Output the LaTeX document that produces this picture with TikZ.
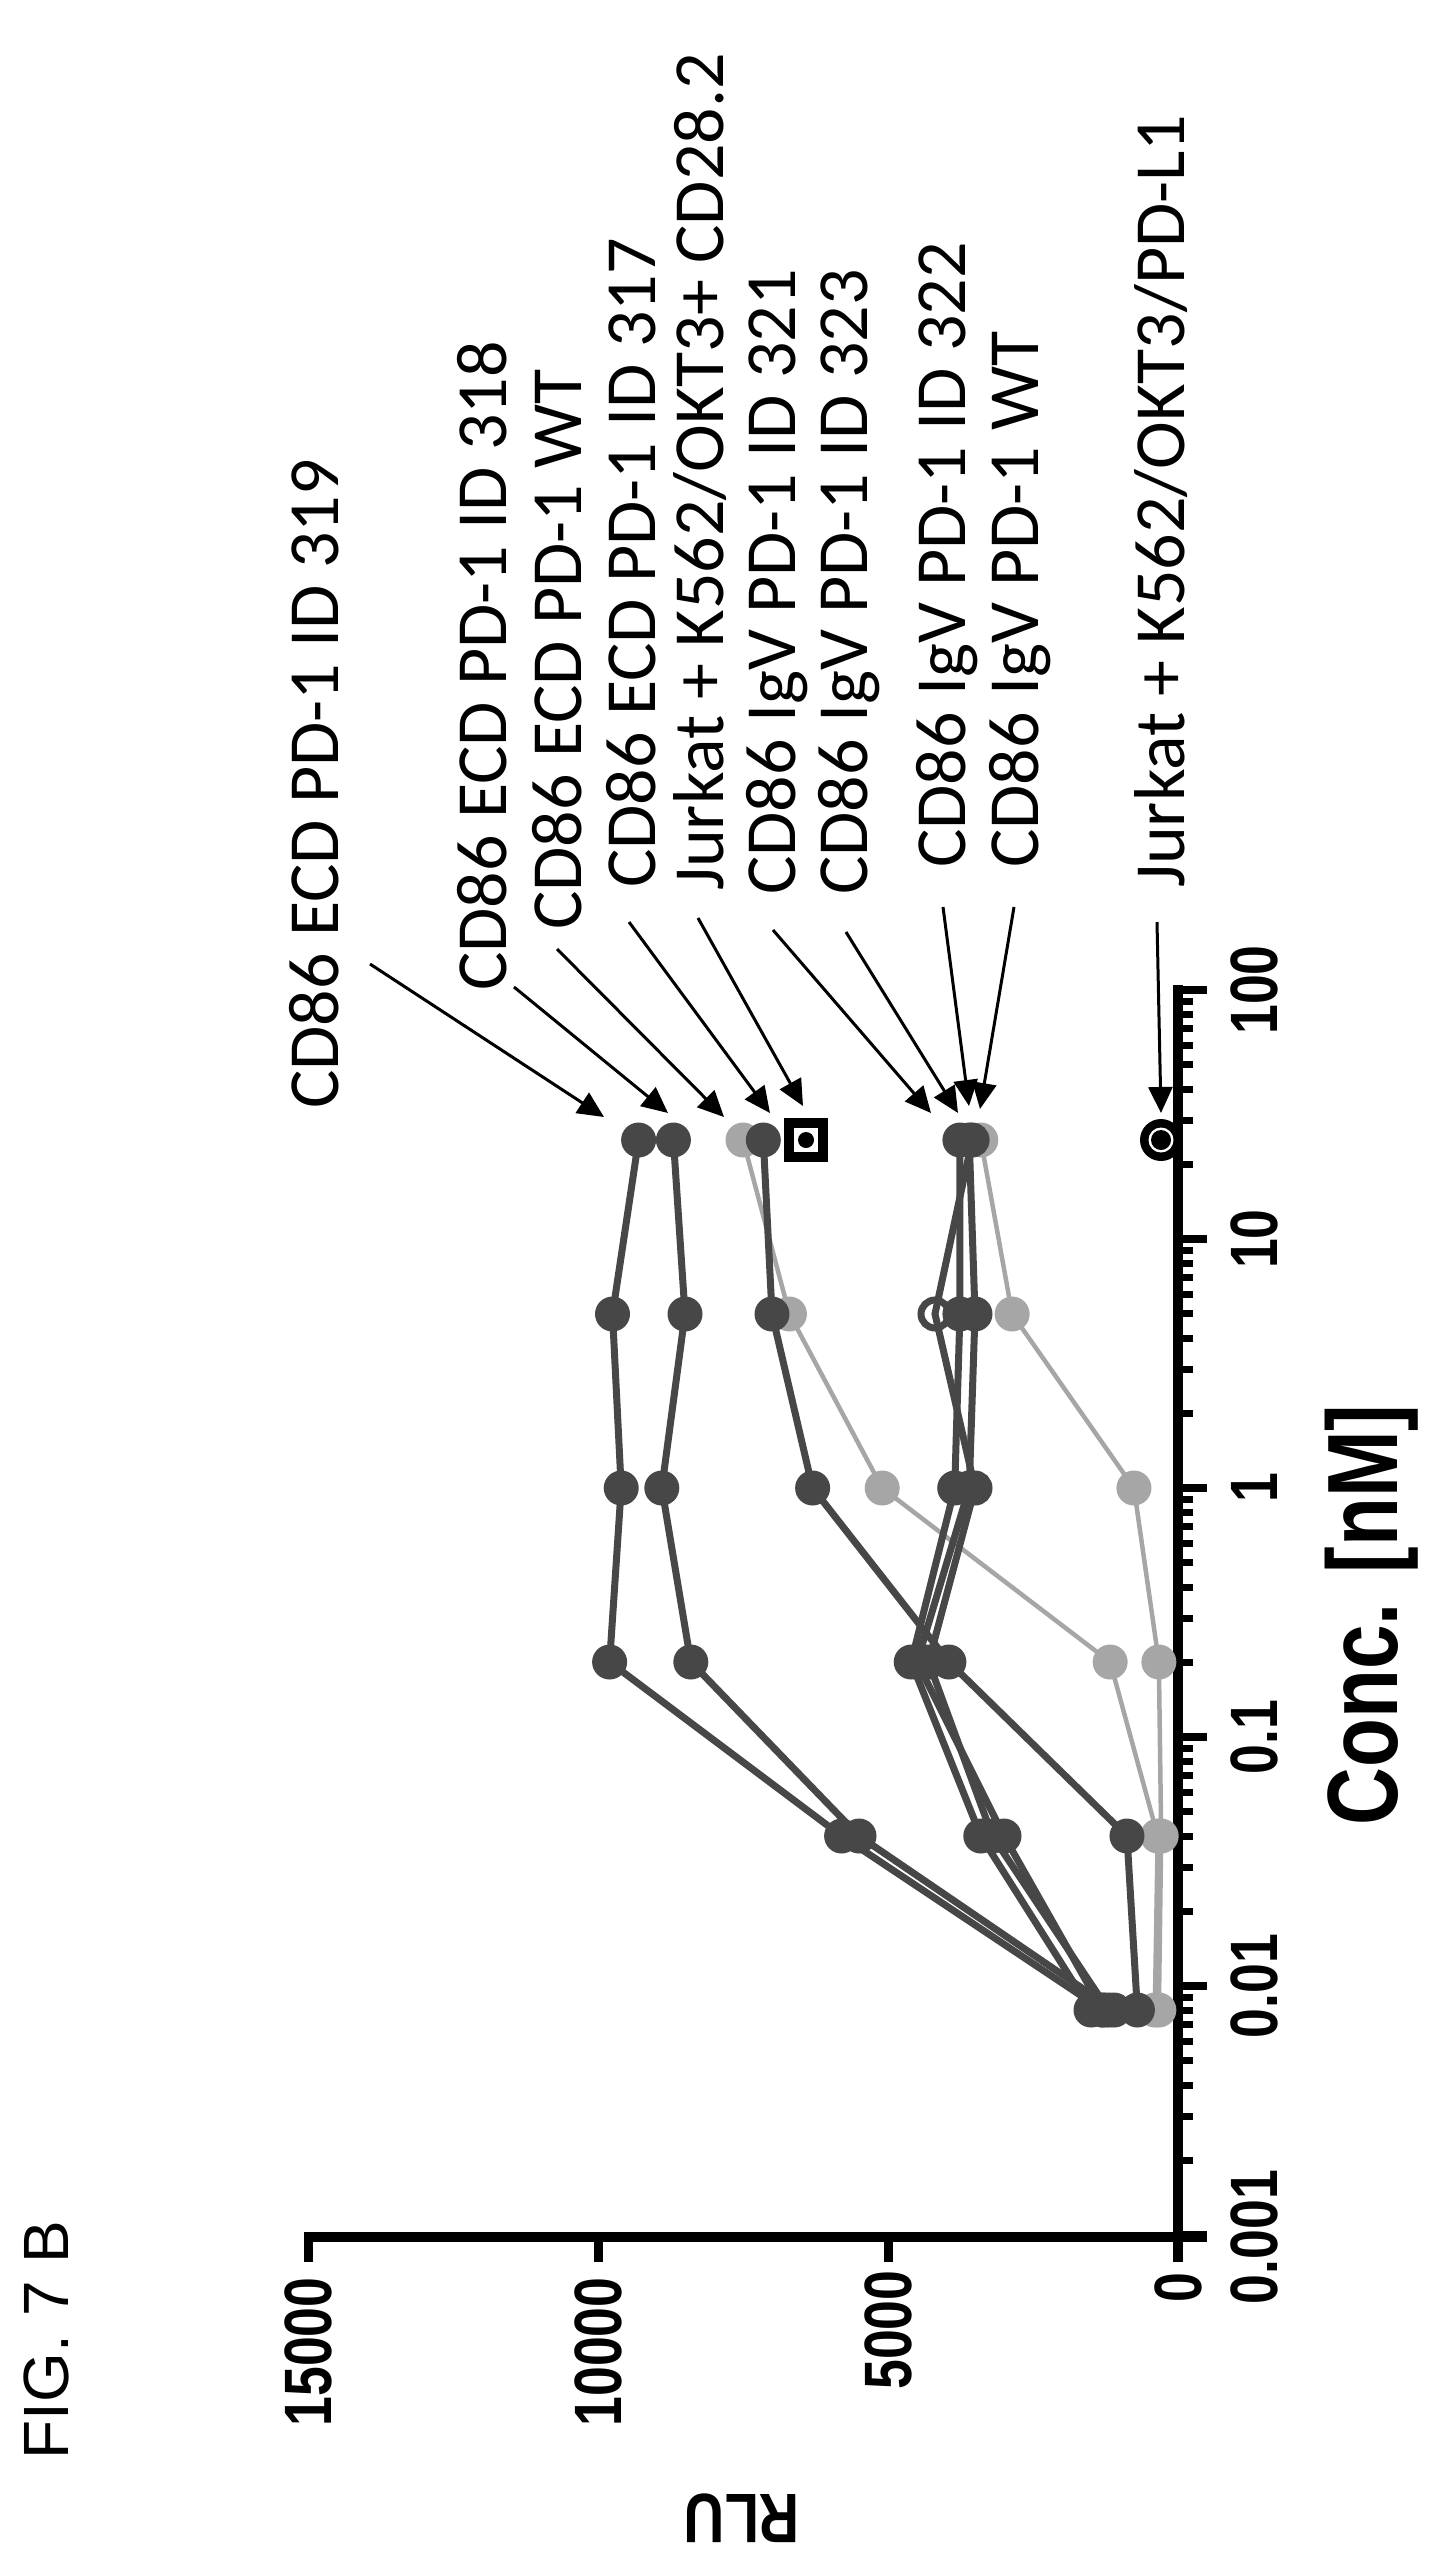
\documentclass[tikz,border=0pt]{standalone}
\usepackage{fontspec}
\usepackage{graphicx}
\setmainfont{Carlito}
\newfontfamily\axfont{Liberation Sans}
\usetikzlibrary{arrows.meta}
\tikzset{
  dk/.style={line width=7pt,draw=black!72},
  lt/.style={line width=4.5pt,draw=black!35},
  dkm/.style={fill=black!72,draw=none},
  ltm/.style={fill=black!35,draw=none},
  lab/.style={rotate=90,anchor=west,inner sep=0pt,font=\fontsize{72}{80}\selectfont},
  ptr/.style={line width=3pt,-{Triangle[length=26pt,width=24pt]}},
  tlab/.style={rotate=90,inner sep=0pt,font=\axfont\bfseries\fontsize{67}{70}\selectfont},
}
\newcommand\sq[1]{\scalebox{0.8}[1]{#1}}
\begin{document}
\begin{tikzpicture}[x=1pt,y=-1pt]
\useasboundingbox (0,0) rectangle (1431,2564);
% axes
\draw[line width=10pt] (1178,985) -- (1178,2262);
\draw[line width=10pt] (308,2237) -- (1207,2237);
\foreach \x in {308,598,888} \draw[line width=9pt] (\x,2232) -- (\x,2262);
\foreach \d in {-3,...,2}{
  \draw[line width=8pt] (1178,{1488-249*\d}) -- (1207,{1488-249*\d});
  \ifnum\d<2
  \foreach \m in {2,...,9} \draw[line width=7pt] (1178,{1488-249*(\d+log10(\m))}) -- (1193,{1488-249*(\d+log10(\m))});
  \fi
}
\draw[line width=8pt] (1178,990) -- (1207,990);
% tick labels
\node[tlab] at (1254,2237) {\sq{0.001}};
\node[tlab] at (1254,1986) {\sq{0.01}};
\node[tlab] at (1254,1737) {\sq{0.1}};
\node[tlab] at (1254,1488) {\sq{1}};
\node[tlab] at (1254,1239) {\sq{10}};
\node[tlab] at (1254,990) {\sq{100}};
\node[tlab] at (308,2352) {\sq{15000}};
\node[tlab] at (598,2352) {\sq{10000}};
\node[tlab] at (888,2330) {\sq{5000}};
\node[tlab] at (1178,2288) {\sq{0}};
\node[rotate=90,inner sep=0pt,font=\axfont\bfseries\fontsize{100}{100}\selectfont] (xt) at (1372,1615) {\sq{Conc. [nM]}};
\node[rotate=180,inner sep=0pt,font=\axfont\bfseries\fontsize{70}{70}\selectfont] (yt) at (742,2518) {\sq{RLU}};
\node[rotate=90,inner sep=0pt,font=\axfont\fontsize{64}{64}\selectfont] (fig) at (46,2340) {FIG. 7 B};
% series: y positions
\def\ya{2010}\def\yb{1836}\def\yc{1662}\def\yd{1488}\def\ye{1314}\def\yf{1140}
\newcommand\ser[7]{\draw[#1] ({1178-0.058*#2},\ya) -- ({1178-0.058*#3},\yb) -- ({1178-0.058*#4},\yc) -- ({1178-0.058*#5},\yd) -- ({1178-0.058*#6},\ye) -- ({1178-0.058*#7},\yf);}
\newcommand\mk[7]{\foreach \r/\yy in {#2/\ya,#3/\yb,#4/\yc,#5/\yd,#6/\ye,#7/\yf} \fill[#1] ({1178-0.058*\r},\yy) circle (17.5);}
\newcommand\rg[7]{\foreach \r/\yy in {#2/\ya,#3/\yb,#4/\yc,#5/\yd,#6/\ye,#7/\yf} \draw[black!72,line width=7pt] ({1178-0.058*\r},\yy) circle (14);}
% light series
\ser{lt}{330}{290}{330}{760}{2860}{3400}
\mk{ltm}{330}{290}{330}{760}{2860}{3400}
\ser{lt}{400}{350}{1170}{5100}{6700}{7500}
\mk{ltm}{400}{350}{1170}{5100}{6700}{7500}
% dark series
\ser{dk}{1200}{3200}{4300}{3500}{4190}{3550}
\ser{dk}{1300}{3000}{4500}{3600}{3500}{3600}
\ser{dk}{1500}{3400}{4600}{3850}{3760}{3760}
\ser{dk}{700}{880}{3950}{6300}{7000}{7150}
\ser{dk}{1100}{5500}{8400}{8900}{8500}{8700}
\ser{dk}{1300}{5800}{9800}{9600}{9750}{9300}
\mk{dkm}{1300}{3000}{4500}{3600}{3500}{3600}
\mk{dkm}{1500}{3400}{4600}{3850}{3760}{3760}
\mk{dkm}{700}{880}{3950}{6300}{7000}{7150}
\mk{dkm}{1100}{5500}{8400}{8900}{8500}{8700}
\mk{dkm}{1300}{5800}{9800}{9600}{9750}{9300}
\rg{}{1200}{3200}{4300}{3500}{4190}{3550}
% single markers
\coordinate (sqc) at (806,1140);
\fill[black] (784,1118) rectangle (828,1162);
\fill[white] (794,1128) rectangle (818,1152);
\fill[black] (sqc) circle (8);
\coordinate (jc) at (1161,1140);
\fill[black] (jc) circle (21);
\fill[white] (jc) circle (12.5);
\fill[black] (jc) circle (10);
% labels
\node[lab] (l1) at (314,1109) {CD86 ECD PD-1 ID 319};
\node[lab] (l2) at (482,991) {CD86 ECD PD-1 ID 318};
\node[lab] (l3) at (557,930) {CD86 ECD PD-1 WT};
\node[lab] (l4) at (631,888) {CD86 ECD PD-1 ID 317};
\node[lab] (l5) at (700,891) {Jurkat + K562/OKT3+ CD28.2};
\node[lab] (l6) at (777,895) {CD86 IgV PD-1 ID 321};
\node[lab] (l7) at (849,895) {CD86 IgV PD-1 ID 323};
\node[lab] (l8) at (947,868) {CD86 IgV PD-1 ID 322};
\node[lab] (l9) at (1020,868) {CD86 IgV PD-1 WT};
\node[lab] (l10) at (1161,888) {Jurkat + K562/OKT3/PD-L1};
% arrows
\foreach \i/\sx/\sy/\ex/\ey in {1/370/964/604/1117,2/514/987/668/1113,3/557/949/724/1117,4/629/922/770/1113,5/698/918/803/1106,6/773/930/931/1113,7/846/932/958/1113,8/943/907/969/1106,9/1014/907/980/1109,10/1157/922/1161/1113}{
  \coordinate (s\i) at (\sx,\sy);
  \coordinate (e\i) at (\ex,\ey);
  \draw[ptr] (s\i) -- (e\i);
}
\end{tikzpicture}
\end{document}
